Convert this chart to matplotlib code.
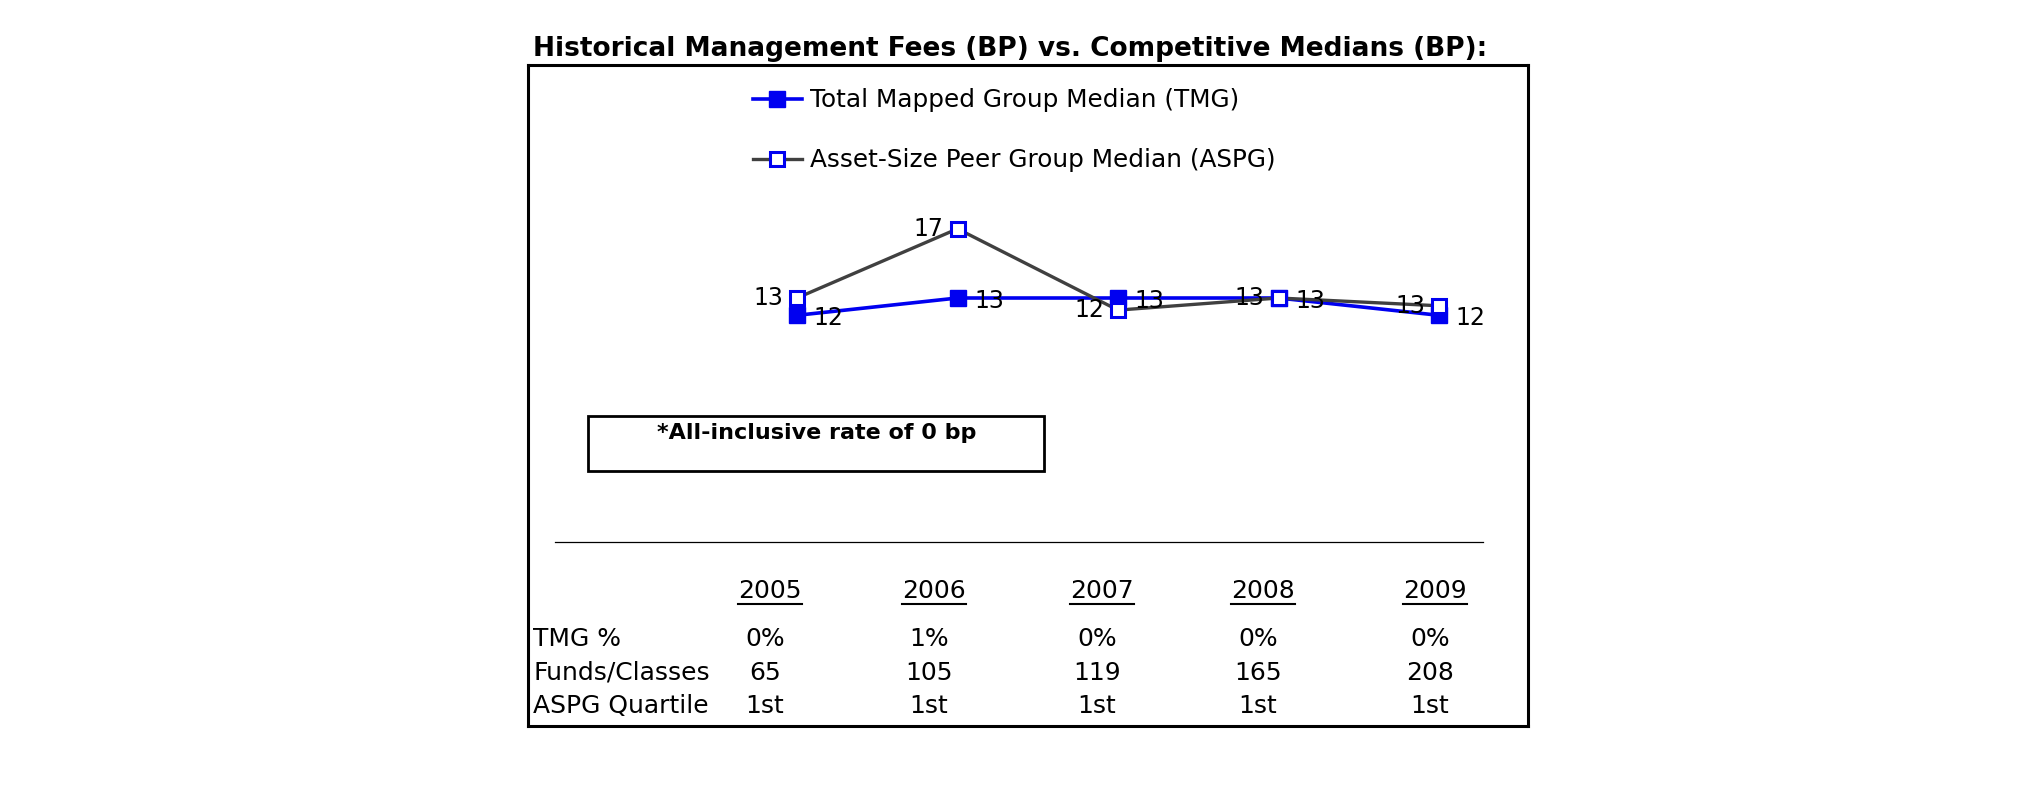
import matplotlib
matplotlib.use("Agg")
import matplotlib.pyplot as plt
from matplotlib.patches import Rectangle
from matplotlib.lines import Line2D

# ---- data ----
years = ["2005", "2006", "2007", "2008", "2009"]
tmg_median = [12, 13, 13, 13, 12]
aspg_median = [13, 17, 12.3, 13, 12.55]
tmg_pct = ["0%", "1%", "0%", "0%", "0%"]
funds_classes = ["65", "105", "119", "165", "208"]
aspg_quartile = ["1st", "1st", "1st", "1st", "1st"]
row_labels = ["TMG %", "Funds/Classes", "ASPG Quartile"]
title = "Historical Management Fees (BP) vs. Competitive Medians (BP):"
footnote = "*All-inclusive rate of 0 bp"
tmg_label = "Total Mapped Group Median (TMG)"
aspg_label = "Asset-Size Peer Group Median (ASPG)"

W, H = 2025, 806
fig = plt.figure(figsize=(W / 100, H / 100), dpi=100)
plt.rcParams['font.family'] = ['DejaVu Sans']

def fx(px):
    return px / W

def fy(py):
    return 1 - py / H

# outer box
bx0, bx1, by0, by1 = 528, 1528, 65, 726
frame = fig.add_axes([fx(bx0), fy(by1), fx(bx1 - bx0), (by1 - by0) / H])
frame.set_xticks([]); frame.set_yticks([])
for s in frame.spines.values():
    s.set_linewidth(2.2)
    s.set_color("black")
frame.set_xlim(0, 1); frame.set_ylim(0, 1)

# title
fig.text(fx(533), fy(49), title, fontsize=19, fontweight="bold",
         ha="left", va="center")

# line chart axes (same area as box, invisible)
ax = fig.add_axes(frame.get_position(), facecolor="none")
ax.set_axis_off()
xs = list(range(len(years)))
step = 160.5
ax.set_xlim(-(797 - bx0) / step, -(797 - bx0) / step + (bx1 - bx0) / step)
upp = 17.3
ytop = 13 + (298 - by0) / upp
ax.set_ylim(ytop - (by1 - by0) / upp, ytop)

blue = "#0000F0"
gray = "#404040"
ax.plot(xs, tmg_median, color=blue, lw=2.6, marker="s", markersize=11,
        markerfacecolor=blue, markeredgecolor=blue, label=tmg_label, zorder=3)
ax.plot(xs, aspg_median, color=gray, lw=2.4, marker="s", markersize=9.5,
        markerfacecolor="white", markeredgecolor=blue, markeredgewidth=2.2,
        label=aspg_label, zorder=4)

for x, v in zip(xs, tmg_median):
    ax.annotate(f"{v:.0f}", (x, v), xytext=(12, -2), textcoords="offset points",
                ha="left", va="center", fontsize=17, zorder=5)
for x, v in zip(xs, aspg_median):
    ax.annotate(f"{v:.0f}", (x, v), xytext=(-10, 0), textcoords="offset points",
                ha="right", va="center", fontsize=17, zorder=5)

leg = ax.legend(loc="upper left", bbox_to_anchor=(fx(741), fy(76)),
                bbox_transform=fig.transFigure, frameon=False, fontsize=17.8,
                borderpad=0, handlelength=1.95, handletextpad=0.33,
                labelspacing=1.45)

# footnote box
fig.patches.append(Rectangle((fx(588), fy(471)), fx(1044 - 588), (471 - 416) / H,
                             transform=fig.transFigure, fill=False,
                             edgecolor="black", linewidth=2.0))
fig.text(fx(817), fy(433), footnote, fontsize=16, fontweight="bold",
         ha="center", va="center")

# separator line
fig.lines.append(Line2D([fx(555), fx(1483)], [fy(542), fy(542)],
                        transform=fig.transFigure, color="black", lw=0.9))

# table
col_x = [770, 934, 1102, 1263, 1435]
for cx, yr in zip(col_x, years):
    t = fig.text(fx(cx), fy(591), yr, fontsize=18, ha="center", va="center")
    fig.canvas.draw()
    bb = t.get_window_extent()
    fig.lines.append(Line2D([bb.x0 / W, bb.x1 / W], [(bb.y0 - 1) / H, (bb.y0 - 1) / H],
                            transform=fig.transFigure, color="black", lw=1.5))

row_y = [639, 673, 706]
for ry, lab in zip(row_y, row_labels):
    fig.text(fx(533), fy(ry), lab, fontsize=18, ha="left", va="center")
for ry, vals in zip(row_y, [tmg_pct, funds_classes, aspg_quartile]):
    for cx, v in zip(col_x, vals):
        fig.text(fx(cx - 5), fy(ry), v, fontsize=18, ha="center", va="center")

fig.savefig("out.png", dpi=100, facecolor="white")
